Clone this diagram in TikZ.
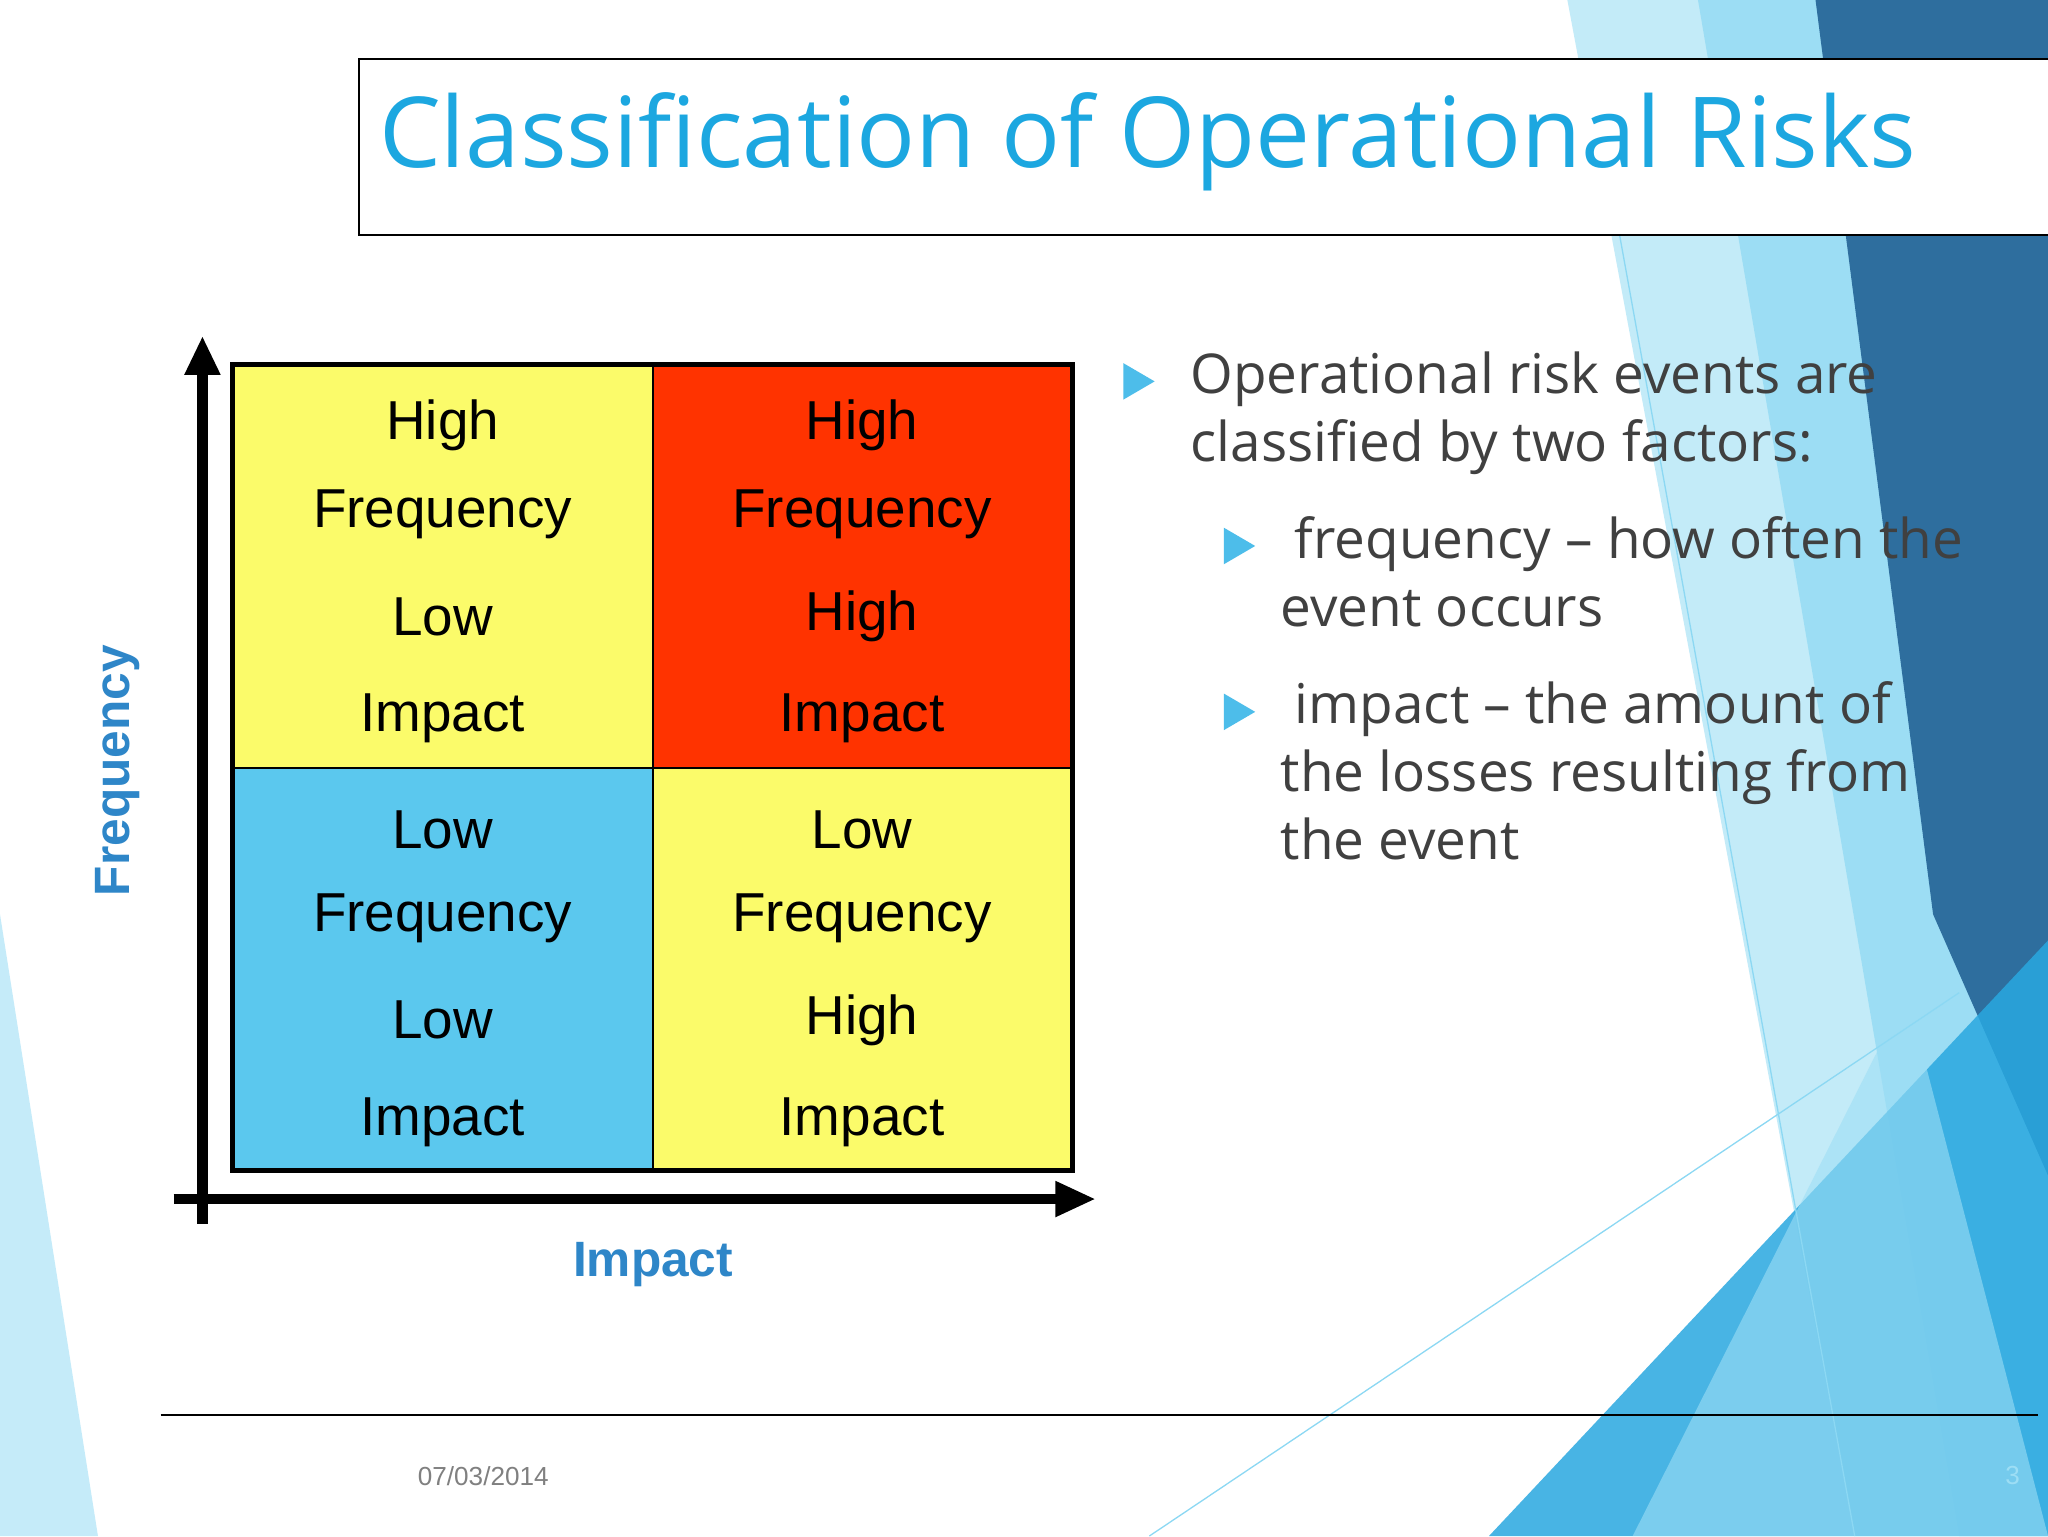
\documentclass[tikz,border=0pt]{standalone}
\usepackage{fontspec}
\setmainfont{Liberation Sans}
\newfontfamily\tfont{Open Sans}
\definecolor{ttl}{HTML}{1CA7E0}
\definecolor{cyel}{HTML}{FBFB6A}
\definecolor{cred}{HTML}{FF3300}
\definecolor{cblu}{HTML}{5BC8EE}
\definecolor{axl}{HTML}{2E86C8}
\definecolor{txt}{HTML}{404040}
\definecolor{bul}{HTML}{4DBDEA}
\definecolor{dkb}{HTML}{2E6E9E}
\definecolor{mdb}{HTML}{29A8E0}
\begin{document}
\begin{tikzpicture}[x=1pt,y=-1pt,
  cell/.style={font=\fontsize{42}{50}\selectfont, align=center, text=black},
  bt/.style={font=\tfont\fontsize{42}{52}\selectfont, text=txt, anchor=north west, align=left}]
\useasboundingbox (0,0) rectangle (1568,1176);
\fill[white] (0,0) rectangle (1568,1176);
% background shapes
\fill[cblu!45, opacity=0.8] (1200,0) -- (1568,0) -- (1568,1176) -- (1420,1176) -- cycle;
\fill[cblu!70, opacity=0.7] (1300,0) -- (1568,0) -- (1568,1176) -- (1500,1176) -- cycle;
\fill[dkb] (1390,0) -- (1568,0) -- (1568,900) -- (1480,700) -- cycle;
\fill[mdb, opacity=0.85] (1140,1176) -- (1568,720) -- (1568,1176) -- cycle;
\fill[cblu!60, opacity=0.6] (1250,1176) -- (1460,760) -- (1568,1176) -- cycle;
\fill[cblu!50, opacity=0.7] (0,700) -- (75,1176) -- (0,1176) -- cycle;
\draw[cblu!70, line width=1pt] (880,1176) -- (1500,760);
\draw[cblu!70, line width=1pt] (1240,180) -- (1420,1176);
% title
\draw[line width=1.5pt, fill=white] (275,45) rectangle (1580,180);
\node[anchor=base west, text=ttl, font=\tfont\fontsize{75}{80}\selectfont, inner sep=0] (title) at (290,128) {Classification of Operational Risks};
% grid
\fill[cyel] (178,279) rectangle (500,588);
\fill[cred] (500,279) rectangle (821,588);
\fill[cblu] (178,588) rectangle (500,896);
\fill[cyel] (500,588) rectangle (821,896);
\draw[line width=1.5pt] (500,279) -- (500,896) (178,588) -- (821,588);
\draw[line width=4pt] (178,279) rectangle (821,896);
\foreach \cx/\cy/\a/\b [count=\i] in {339/279/High/Low, 660/279/High/High, 339/588/Low/Low, 660/588/Low/High}{
  \node[cell] (c\i a) at (\cx,\cy+47) {\a};
  \node[cell] (c\i b) at (\cx,\cy+115) {Frequency};
  \node[cell] (c\i c) at (\cx,\cy+193) {\b};
  \node[cell] (c\i d) at (\cx,\cy+271) {Impact};
}
% axes
\coordinate (vb) at (155,937); \coordinate (vt) at (155,258);
\coordinate (hl) at (133,918); \coordinate (hr) at (838,918);
\draw[line width=8pt] (vb) -- (155,285);
\fill (vt) -- (141,287) -- (169,287) -- cycle;
\draw[line width=8pt] (hl) -- (810,918);
\fill (hr) -- (808,904) -- (808,932) -- cycle;
\node[rotate=90, text=axl, font=\bfseries\fontsize{38}{40}\selectfont] (fl) at (90,590) {Frequency};
\node[text=axl, font=\bfseries\fontsize{38}{40}\selectfont] (il) at (500,968) {Impact};
% bullets
\fill[bul] (860,278) -- (884,292) -- (860,306) -- cycle;
\node[bt] (b1) at (908,266) {Operational risk events are\\classified by two factors:};
\fill[bul] (937,404) -- (961,418) -- (937,432) -- cycle;
\node[bt] (b2) at (977,392) {\ frequency – how often the\\event occurs};
\fill[bul] (937,531) -- (961,545) -- (937,559) -- cycle;
\node[bt] (b3) at (977,518) {\ impact – the amount of\\the losses resulting from\\the event};
% footer
\draw[line width=1.5pt] (123,1083) -- (1560,1083);
\node[text=gray, font=\fontsize{20}{22}\selectfont] (date) at (370,1130) {07/03/2014};
\node[text=cblu!60, font=\fontsize{20}{22}\selectfont] (pg) at (1541,1130) {3};
\end{tikzpicture}
\end{document}
